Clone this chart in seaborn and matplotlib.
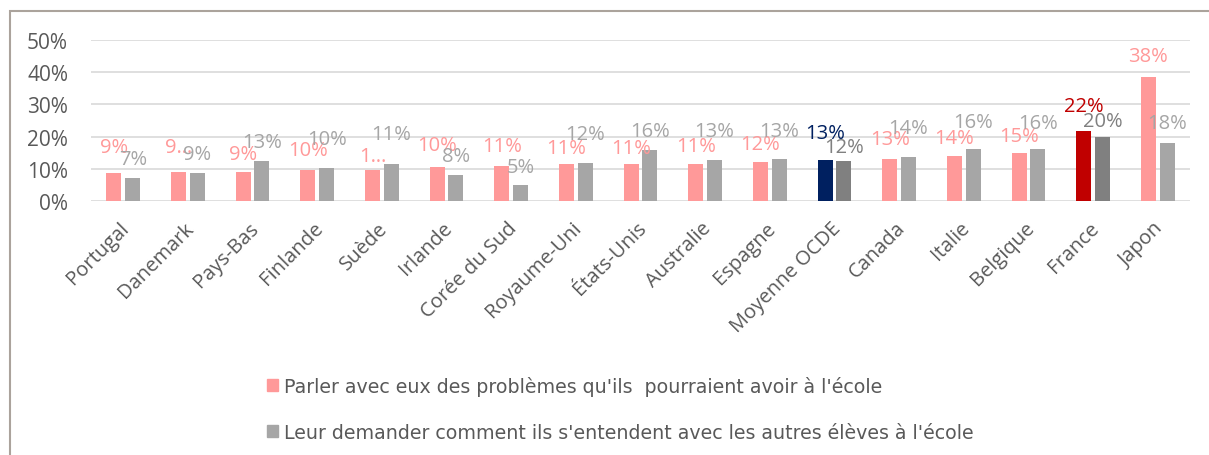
import matplotlib
matplotlib.use("Agg")
import matplotlib.pyplot as plt
import matplotlib.patches as mpatches
import matplotlib.transforms as mtransforms
from matplotlib.ticker import PercentFormatter
import seaborn as sns
import pandas as pd

pays = ["Portugal", "Danemark", "Pays-Bas", "Finlande", "Suède", "Irlande",
        "Corée du Sud", "Royaume-Uni", "États-Unis", "Australie", "Espagne",
        "Moyenne OCDE", "Canada", "Italie", "Belgique", "France", "Japon"]
parler = [0.086, 0.091, 0.091, 0.097, 0.097, 0.105, 0.110, 0.114, 0.114, 0.114,
          0.121, 0.128, 0.131, 0.141, 0.150, 0.218, 0.384]
demander = [0.070, 0.087, 0.124, 0.102, 0.114, 0.082, 0.050, 0.119, 0.159, 0.126,
            0.130, 0.125, 0.138, 0.161, 0.162, 0.199, 0.181]
labels_parler = ["9%", "9…", "9%", "10%", "1…", "10%", "11%", "11%", "11%", "11%",
                 "12%", "13%", "13%", "14%", "15%", "22%", "38%"]
labels_demander = ["7%", "9%", "13%", "10%", "11%", "8%", "5%", "12%", "16%", "13%",
                   "13%", "12%", "14%", "16%", "16%", "20%", "18%"]
series = ["Parler avec eux des problèmes qu'ils  pourraient avoir à l'école",
          "Leur demander comment ils s'entendent avec les autres élèves à l'école"]

# label offsets above bar tops (pixels), as placed in the original
off_parler = [26, 25, 18, 20, 14, 22, 20, 16, 16, 18, 18, 27, 20, 18, 17, 25, 21]
off_demander = [19, 19, 19, 29, 30, 19, 18, 29, 19, 29, 28, 14, 29, 27, 26, 16, 20]

PINK = "#FF9999"
GRAY = "#A6A6A6"
NAVY = "#002060"
RED = "#C00000"
DGRAY = "#808080"
TXT = "#595959"

df = pd.DataFrame({
    "pays": pays * 2,
    "serie": [series[0]] * len(pays) + [series[1]] * len(pays),
    "valeur": parler + demander,
})

sns.set_style("white")
plt.rcParams["font.family"] = ["Open Sans", "DejaVu Sans"]

W, H = 1209, 456
fig = plt.figure(figsize=(W / 100, H / 100), dpi=100)
ax = fig.add_axes([91 / W, 1 - 202 / H, (1190 - 91) / W, (202 - 41) / H])

sns.barplot(data=df, x="pays", y="valeur", hue="serie", order=pays,
            hue_order=series, palette=[PINK, GRAY], saturation=1,
            width=0.58, gap=0.2, legend=False, ax=ax, linewidth=0)

special_first = {"Moyenne OCDE": NAVY, "France": RED}
special_second = {"Moyenne OCDE": DGRAY, "France": DGRAY}

c0, c1 = ax.containers[0], ax.containers[1]
px2pt = 72 / 100
for i, p in enumerate(pays):
    bar0, bar1 = c0[i], c1[i]
    col0 = special_first.get(p, PINK)
    col1 = special_second.get(p, GRAY)
    bar0.set_facecolor(col0)
    bar1.set_facecolor(col1)
    ax.annotate(labels_parler[i], (bar0.get_x() + bar0.get_width() / 2, bar0.get_height()),
                xytext=(0, off_parler[i] * px2pt), textcoords="offset points",
                ha="center", va="center", fontsize=14.5, color=col0, zorder=5,
                annotation_clip=False)
    ax.annotate(labels_demander[i], (bar1.get_x() + bar1.get_width() / 2, bar1.get_height()),
                xytext=(0, off_demander[i] * px2pt), textcoords="offset points",
                ha="center", va="center", fontsize=14.5, color=col1, zorder=6,
                annotation_clip=False)

ax.set_xlim(-0.5, len(pays) - 0.5)
ax.set_ylim(0, 0.5)
ax.set_yticks([0, 0.1, 0.2, 0.3, 0.4, 0.5])
ax.yaxis.set_major_formatter(PercentFormatter(1.0, decimals=0))
ax.set_xlabel("")
ax.set_ylabel("")
ax.grid(axis="y", color="#D9D9D9", linewidth=1.2)
ax.set_axisbelow(True)
for s in ax.spines.values():
    s.set_visible(False)
ax.tick_params(axis="both", length=0, colors=TXT)
ax.tick_params(axis="y", pad=16.5, labelsize=15)
ax.tick_params(axis="x", pad=12, labelsize=14.5)
shift = mtransforms.ScaledTranslation(-4 / 100, 0, fig.dpi_scale_trans)
for lab in ax.get_xticklabels():
    lab.set_rotation(45)
    lab.set_ha("right")
    lab.set_rotation_mode("anchor")
    lab.set_transform(lab.get_transform() + shift)

handles = [mpatches.Patch(color=PINK), mpatches.Patch(color=GRAY)]
fig.legend(handles, series, loc="upper left", bbox_to_anchor=(257 / W, 1 - 367 / H),
           frameon=False, handlelength=0.6, handleheight=0.6,
           handletextpad=0.3, labelspacing=1.45, borderpad=0, labelcolor=TXT,
           prop={"family": ["DejaVu Sans"], "size": 13.7})

border = mpatches.Rectangle((10 / W, -0.1), 1.2, 1 - 12 / H + 0.1,
                            transform=fig.transFigure, fill=False,
                            edgecolor="#ABA39C", linewidth=1.5)
fig.patches.append(border)

fig.savefig("out.png", dpi=100)
